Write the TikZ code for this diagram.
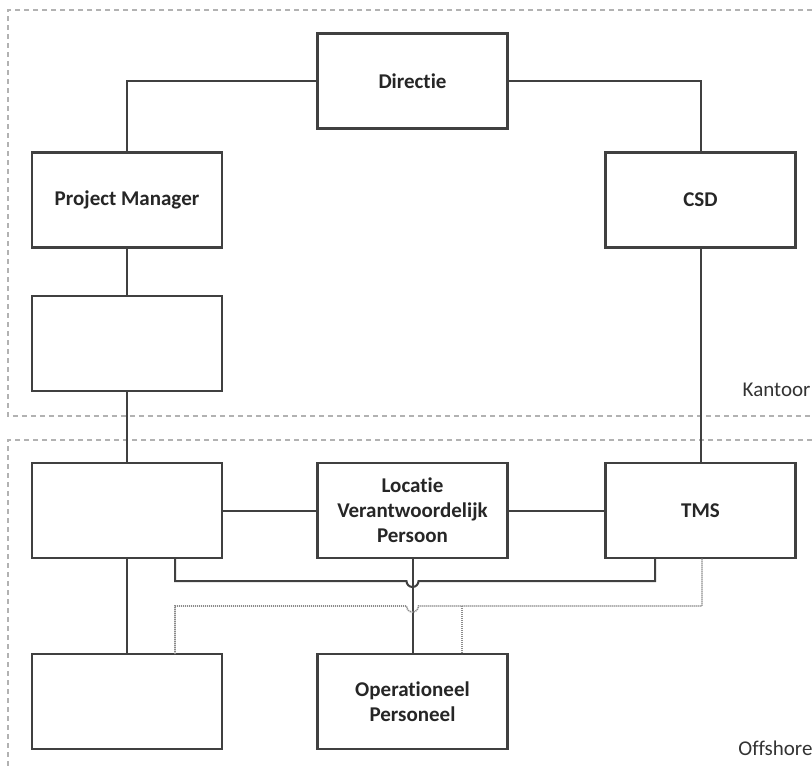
\documentclass[tikz,border=0pt]{standalone}
\usepackage{fontspec}
\setmainfont{Carlito}[Ligatures={NoCommon,NoRequired,NoContextual}]
\begin{document}
\begin{tikzpicture}[x=1pt,y=-1pt,
  box/.style={draw=black!75,line width=2.2pt,minimum width=190pt,minimum height=95pt,inner sep=0pt,align=center,font=\fontsize{21}{25}\selectfont\bfseries,text=black!85},
  conn/.style={draw=black!75,line width=2pt},
  dotconn/.style={draw=black!45,line width=1.6pt,dash pattern=on 1.2pt off 0.8pt},
  region/.style={draw=black!30,line width=1.2pt,dash pattern=on 5pt off 4pt},
  lbl/.style={font=\fontsize{21}{25}\selectfont,text=black!80}]
\useasboundingbox (0,0) rectangle (812,769);
\fill[white] (0,0) rectangle (812,769);
% regions
\draw[region] (830,10) -- (8,10) -- (8,416) -- (830,416);
\draw[region] (830,440) -- (8,440) -- (8,790);
\node[lbl,anchor=east] (kantoor) at (814,390) {Kantoor};
\node[lbl,anchor=east] (offshore) at (816,748) {Offshore};
% boxes
\node[box] (dir) at (412.5,81) {Directie};
\node[box] (pm) at (127,200) {Project Manager};
\node[box] (csd) at (700.5,200) {CSD};
\node[box] (e1) at (127,343.5) {};
\node[box] (e2) at (127,510.5) {};
\node[box] (lvp) at (412.5,510.5) {Locatie\\Verantwoordelijk\\Persoon};
\node[box] (tms) at (700.5,510.5) {TMS};
\node[box] (e3) at (127,701.5) {};
\node[box] (op) at (412.5,701.5) {Operationeel\\Personeel};
% connectors
\draw[conn] (dir.west) -| (pm.north);
\draw[conn] (dir.east) -| (csd.north);
\draw[conn] (pm.south) -- (e1.north);
\draw[conn] (e1.south) -- (e2.north);
\draw[conn] (csd.south) -- (tms.north);
\draw[conn] (e2.east) -- (lvp.west);
\draw[conn] (lvp.east) -- (tms.west);
\draw[conn] (e2.south) -- (e3.north);
\draw[conn] (lvp.south) -- (op.north);
% solid line with hop
\coordinate (s1) at (175,558);
\coordinate (s2) at (655,558);
\draw[conn] (s1) -- (175,581) -- (406.5,581) arc[start angle=180,end angle=0,radius=6] -- (655,581) -- (s2);
% dotted line with hop
\coordinate (d1) at (175,654);
\coordinate (d2) at (702,558);
\coordinate (d3) at (462,606);
\coordinate (d4) at (462,654);
\draw[dotconn] (d1) -- (175,606) -- (406.5,606) arc[start angle=180,end angle=0,radius=6] -- (702,606) -- (d2);
\draw[dotconn] (d3) -- (d4);
\end{tikzpicture}
\end{document}
